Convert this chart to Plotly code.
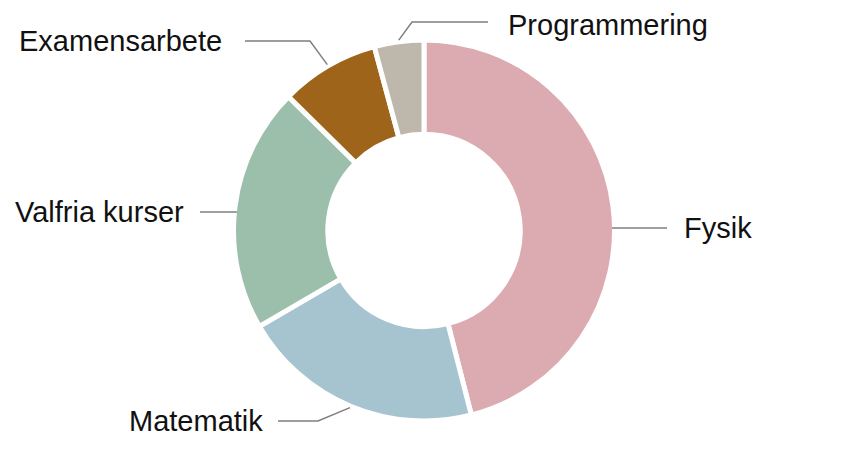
import math
import plotly.graph_objects as go

# data (share of the programme, %)
subjects = ["Fysik", "Matematik", "Valfria kurser", "Examensarbete", "Programmering"]
shares = [46.0, 20.6, 20.8, 8.4, 4.2]
colors = ["#DCABB1", "#A6C4CF", "#9BBFAA", "#9E6419", "#BEB7AC"]

W, H = 848, 457
PAD = 8                 # page body margin the figure sits inside
CX, CY = 424, 230.5     # pie centre, px in the window
R = 190.5               # radius plotly will use for the domain below
GAP = 5                 # white separator width
FONT_SIZE = 29

# label placement (window px): side, label y, elbow x (None = straight line), line end x, text gap
label_layout = {
    "Fysik":          (1, 228, None, 667, 16),
    "Matematik":      (-1, 421, 318, 278, 14),
    "Valfria kurser": (-1, 212, None, 200, 15),
    "Examensarbete":  (-1, 41, 310, 245, 22),
    "Programmering":  (1, 22, 412, 488, 19),
}


def px(x, y):
    # window pixel -> paper coords of the figure
    return (x - PAD) / W, 1 - (y - PAD) / H


fig = go.Figure()
fig.add_trace(
    go.Pie(
        labels=subjects,
        values=shares,
        sort=False,
        direction="clockwise",
        rotation=0,
        hole=0.505,
        marker={"colors": colors, "line": {"color": "#ffffff", "width": GAP}},
        textinfo="none",
        hoverinfo="label+percent",
        showlegend=False,
        domain={"x": [px(CX - R, 0)[0], px(CX + R, 0)[0]],
                "y": [px(0, CY + R)[1], px(0, CY - R)[1]]},
    )
)

# leader lines + labels, anchored at each slice's mid angle
total = sum(shares)
cum = 0
r_vis = R - GAP / 2
half_box = FONT_SIZE * 0.58
for name, val in zip(subjects, shares):
    mid = (cum + val / 2) / total * 2 * math.pi
    cum += val
    side, ly, ex, lx, gap = label_layout[name]
    if ex is None:
        x0 = CX + side * math.sqrt(r_vis ** 2 - (ly - CY) ** 2)
        pts = [(x0, ly), (lx, ly)]
    else:
        ax = CX + (r_vis + 4) * math.sin(mid)
        ay = CY - (r_vis + 4) * math.cos(mid)
        pts = [(ax, ay), (ex, ly), (lx, ly)]
    path = ""
    for i, (x, y) in enumerate(pts):
        u, v = px(x, y)
        path += ("M" if i == 0 else "L") + f"{u:.5f},{v:.5f} "
    fig.add_shape(type="path", path=path, xref="paper", yref="paper",
                  line={"color": "#7f7f7f", "width": 1.5})
    # keep the text box inside the figure
    if ly - half_box < PAD:
        tx, ty = px(lx + side * gap, PAD)
        yanchor = "top"
    else:
        tx, ty = px(lx + side * gap, ly)
        yanchor = "middle"
    fig.add_annotation(
        x=tx, y=ty, xref="paper", yref="paper",
        text=name, showarrow=False, borderpad=0,
        xanchor="left" if side > 0 else "right", yanchor=yanchor,
        font={"family": "Liberation Sans, Arial, sans-serif", "size": FONT_SIZE, "color": "#111111"},
    )

fig.update_layout(
    width=W,
    height=H,
    margin={"l": 0, "r": 0, "t": 0, "b": 0},
    paper_bgcolor="#ffffff",
    plot_bgcolor="#ffffff",
)
fig.write_html("out.html")
